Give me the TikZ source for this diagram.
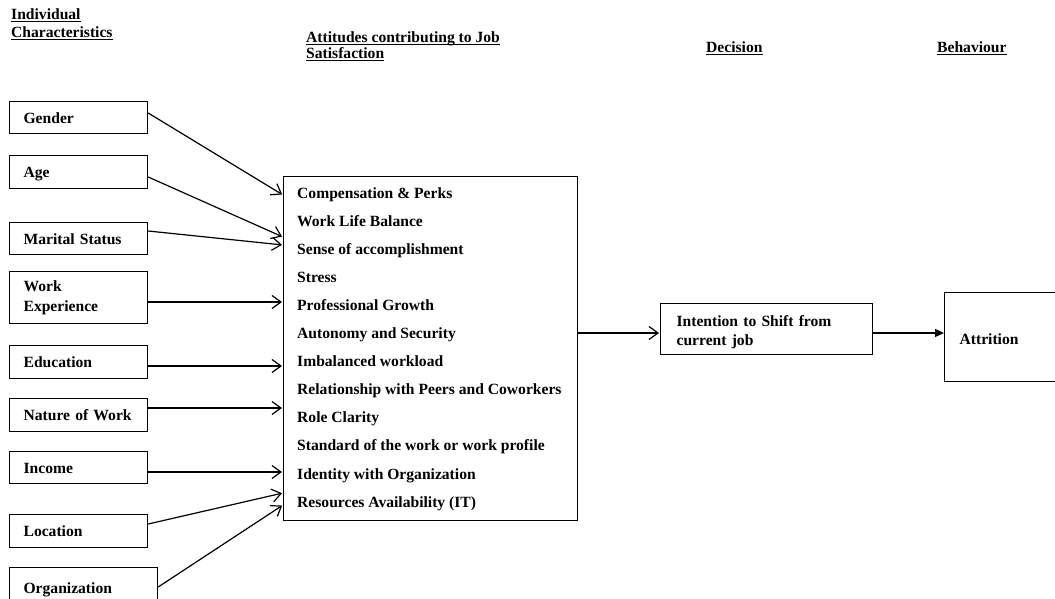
\documentclass[tikz,border=0pt]{standalone}
\usepackage{fontspec}
\setmainfont{Liberation Serif}
\usetikzlibrary{arrows.meta}
\newcommand\ulx[1]{\setbox0\hbox{#1}\rlap{\rule[-2.4pt]{\wd0}{1pt}}\box0}
\begin{document}
\begin{tikzpicture}[x=1pt,y=-1pt,
  font=\fontsize{15.6}{20}\selectfont\bfseries,
  lbox/.style={draw, line width=1.2pt, inner xsep=14pt, inner ysep=0pt, align=left,
    anchor=north west, text width=110pt},
  sbox/.style={lbox, text height=13.5pt, text depth=2pt},
  arr/.style={line width=1.2pt, shorten >=1pt, -{Straight Barb[length=9pt,width=13pt,line width=1.2pt]}},
  farr/.style={line width=1.2pt, -{Triangle[length=9pt,width=8pt]}},
  hdr/.style={anchor=base west, inner sep=0pt},
  item/.style={anchor=base west, inner sep=0pt}]
\useasboundingbox[fill=white] (0,0) rectangle (1055,599);

% headers
\node[hdr] (h1a) at (11,20) {\ulx{Individual}};
\node[hdr] (h1b) at (11,38) {\ulx{Characteristics}};
\node[hdr] (h2a) at (306,43) {\ulx{Attitudes contributing to Job}};
\node[hdr] (h2b) at (306,59) {\ulx{Satisfaction}};
\node[hdr] (h3) at (706,53) {\ulx{Decision}};
\node[hdr] (h4) at (937,53) {\ulx{Behaviour}};

% left boxes
\node[sbox, minimum height=32pt, text height=14.5pt] (gender) at (9,101) {Gender};
\node[sbox, minimum height=33pt] (age) at (9,155) {Age};
\node[sbox, minimum height=32pt] (marital) at (9,222) {Marital Status};
\node[lbox, minimum height=52pt] (workexp) at (9,271) {Work\\Experience};
\node[sbox, minimum height=33pt] (edu) at (9,345) {Education};
\node[sbox, minimum height=33pt] (nature) at (9,398) {Nature of Work};
\node[sbox, minimum height=32pt] (income) at (9,451) {Income};
\node[sbox, minimum height=33pt] (location) at (9,514) {Location};
\node[sbox, minimum height=40pt, text width=120pt] (org) at (9,567) {Organization};

% central box
\node[draw, line width=1.2pt, minimum width=294pt, minimum height=344pt, anchor=north west, inner sep=0pt] (att) at (283,176) {};
\foreach \t [count=\i from 0] in {Compensation \& Perks, Work Life Balance, Sense of accomplishment, Stress, Professional Growth, Autonomy and Security, Imbalanced workload, Relationship with Peers and Coworkers, Role Clarity, Standard of the work or work profile, Identity with Organization, Resources Availability (IT)}
  \node[item] (it\i) at (297,198+28.1*\i) {\t};

% decision and behaviour
\node[lbox, text width=180pt, inner xsep=16pt, minimum height=51pt, text height=17pt, text depth=23pt, font=\fontsize{15.6}{19.5}\selectfont\bfseries] (intent) at (660,303) {Intention to Shift from\\current job};
\node[draw, line width=1.2pt, anchor=north west, inner xsep=15pt, inner ysep=0pt, text width=100pt, align=left, minimum height=89pt, text height=17pt, text depth=3pt] (attr) at (944,292) {Attrition};

% connectors
\draw[arr] (gender.east |- 0,113) -- (att.west |- 0,195);
\draw[arr] (age.east |- 0,177) -- (att.west |- 0,237);
\draw[arr] (marital.east |- 0,231) -- (att.west |- 0,245);
\draw[arr] (workexp.east |- 0,302) -- (att.west |- 0,302);
\draw[arr] (edu.east |- 0,366) -- (att.west |- 0,366);
\draw[arr] (nature.east |- 0,408) -- (att.west |- 0,408);
\draw[arr] (income.east |- 0,472) -- (att.west |- 0,472);
\draw[arr] (location.east |- 0,524) -- (att.west |- 0,493);
\draw[arr] (org.east |- 0,587) -- (att.west |- 0,505);
\draw[arr] (att.east |- 0,333) -- (intent.west |- 0,333);
\draw[farr] (intent.east |- 0,333) -- (attr.west |- 0,333);
\end{tikzpicture}
\end{document}
